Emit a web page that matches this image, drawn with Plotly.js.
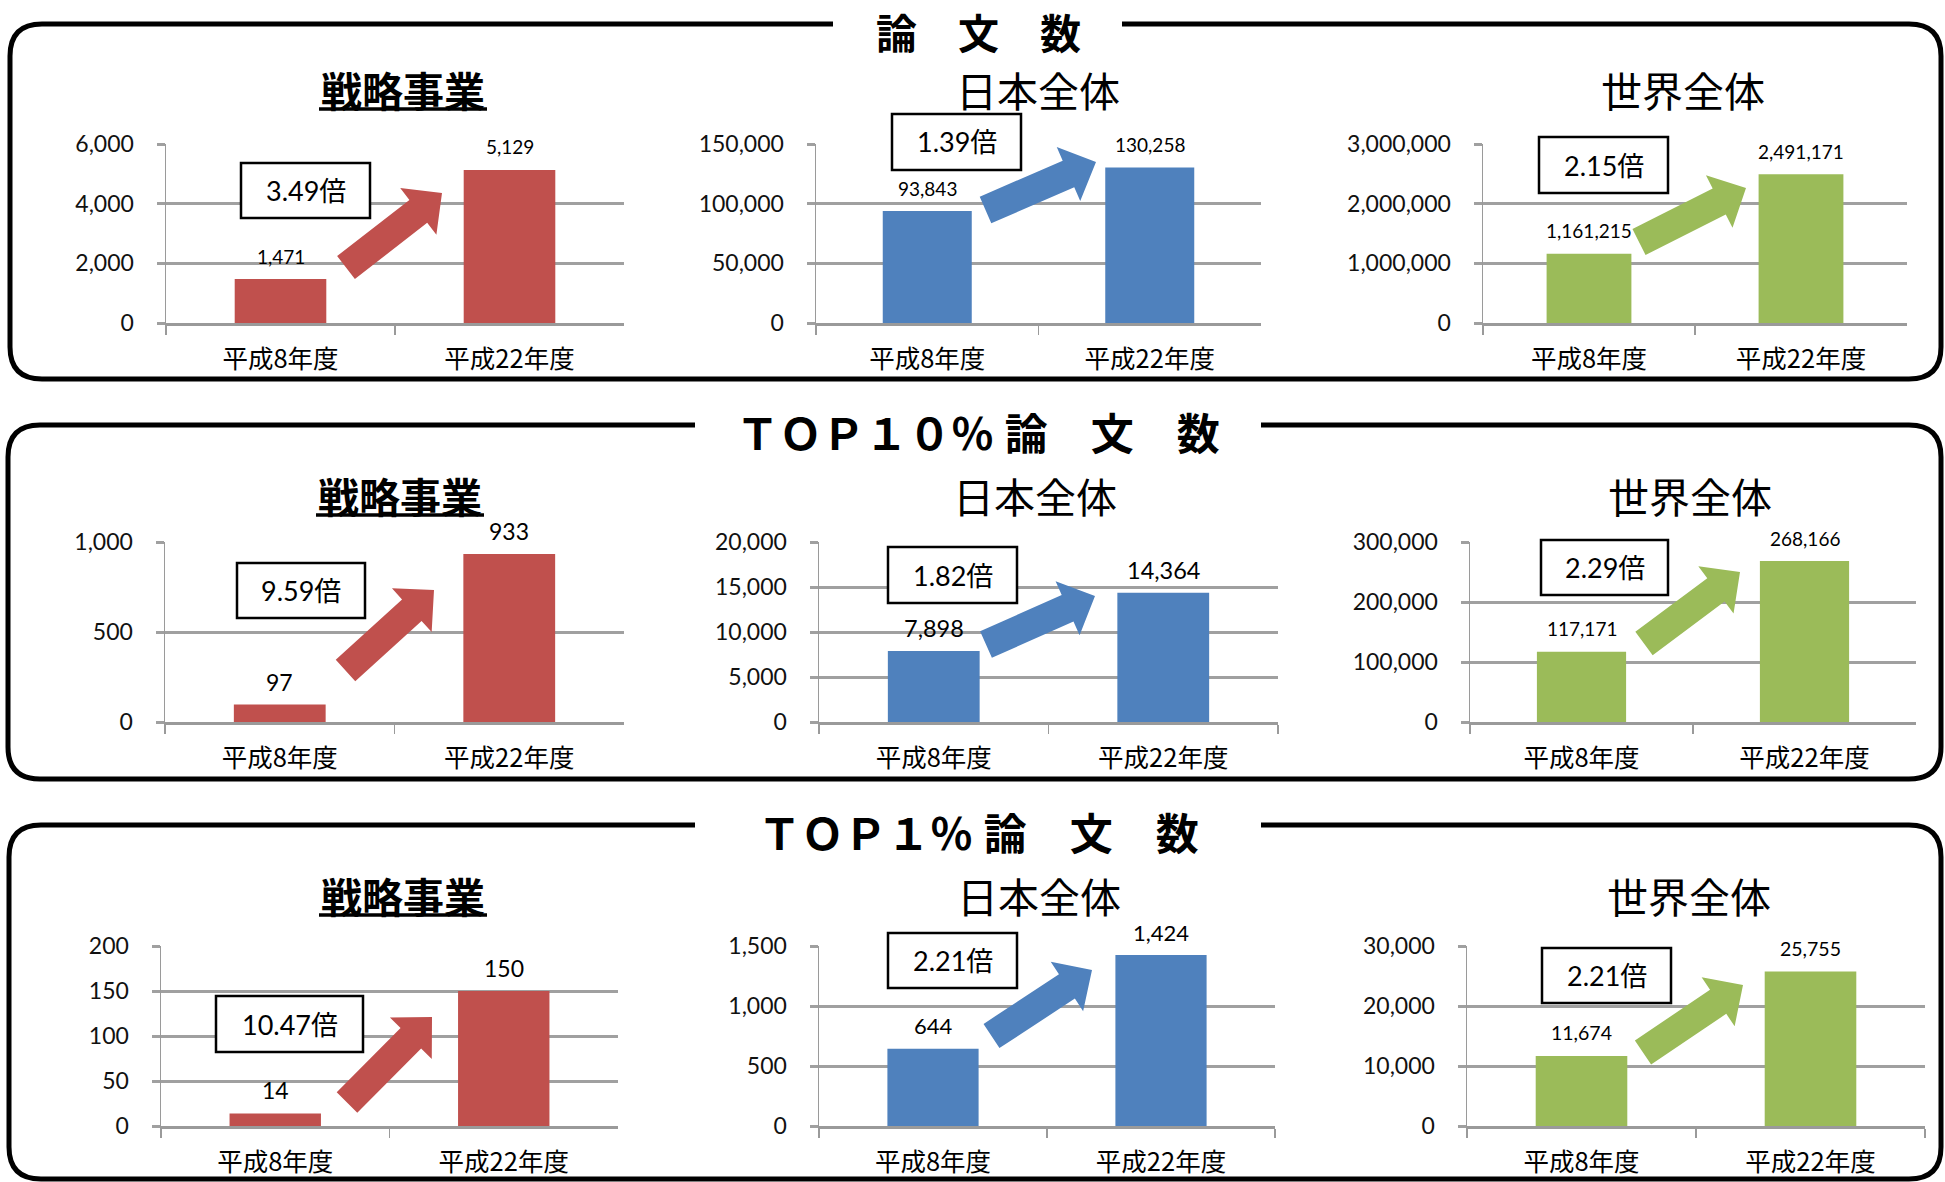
<!DOCTYPE html>
<html><head><meta charset="utf-8">
<script src="https://cdn.plot.ly/plotly-3.0.1.min.js"></script>
<style>html,body{margin:0;padding:0;background:#fff;}#chart{width:1945px;height:1182px;}</style>
</head><body><div id="chart"></div>
<script>
// ---- data ----
const categories = ['平成8年度', '平成22年度'];
const groupTitles = ['戦略事業', '日本全体', '世界全体'];
const sectionTitles = ['論　文　数', 'ＴＯＰ１０％\u2005論　文　数', 'ＴＯＰ１％\u2005論　文　数'];

const papers_strategic = [1471, 5129];
const papers_japan = [93843, 130258];
const papers_world = [1161215, 2491171];
const top10_strategic = [97, 933];
const top10_japan = [7898, 14364];
const top10_world = [117171, 268166];
const top1_strategic = [14, 150];
const top1_japan = [644, 1424];
const top1_world = [11674, 25755];

const ratios_papers = ['3.49倍', '1.39倍', '2.15倍'];
const ratios_top10 = ['9.59倍', '1.82倍', '2.29倍'];
const ratios_top1 = ['10.47倍', '2.21倍', '2.21倍'];

const yMax_papers = [6000, 150000, 3000000];
const yMax_top10 = [1000, 20000, 300000];
const yMax_top1 = [200, 1500, 30000];
const yStep_papers = [2000, 50000, 1000000];
const yStep_top10 = [500, 5000, 100000];
const yStep_top1 = [50, 500, 10000];

const seriesRows = [
  [papers_strategic, papers_japan, papers_world],
  [top10_strategic, top10_japan, top10_world],
  [top1_strategic, top1_japan, top1_world]
];
const ratioRows = [ratios_papers, ratios_top10, ratios_top1];
const yMaxRows = [yMax_papers, yMax_top10, yMax_top1];
const yStepRows = [yStep_papers, yStep_top10, yStep_top1];

// ---- styling / geometry (pixels) ----
const W = 1945, H = 1182;
const PX = x => x / W, PY = y => 1 - y / H;
const colors = ['#C0504D', '#4F81BD', '#9BBB59'];
const rowY = [[144, 323], [542, 722], [946, 1126]];
const colX = [
  [[166, 624], [816, 1261], [1483, 1907]],
  [[165, 624], [819, 1278], [1470, 1916]],
  [[161, 618], [819, 1275], [1467, 1925]]
];
const labelSizes = [[19, 19, 19], [23, 23.5, 19], [23, 22, 19.5]];
const subtitlePos = [
  [[403, 89], [1038, 89], [1683, 89]],
  [[400, 495], [1035, 495], [1690, 495]],
  [[403, 895], [1039, 895], [1689, 895]]
];
const boxes = [
  [[241, 163, 370, 218], [892, 114, 1021, 170], [1539, 137, 1668, 193]],
  [[237, 563, 365, 618], [888, 547, 1017, 603], [1541, 540, 1668, 595]],
  [[216, 996, 363, 1052], [888, 933, 1017, 988], [1542, 948, 1671, 1003]]
];
// arrows: tail center x,y ; tip x,y
const arrows = [
  [[346, 267.5, 442, 193], [985.5, 210, 1096, 162], [1639, 242, 1746, 188]],
  [[345.5, 670.5, 434, 590], [986, 644.5, 1095, 596], [1644, 643.5, 1740, 572]],
  [[347, 1102.5, 432, 1017], [991.5, 1036, 1092, 970], [1643, 1052.5, 1743, 985]]
];
const panels = [
  {top: 24, bottom: 379, gap: [833, 1122], titleY: 30.5, left: 10},
  {top: 425, bottom: 779, gap: [695, 1261], titleY: 431, left: 8},
  {top: 825, bottom: 1179, gap: [695, 1261], titleY: 831, left: 9}
];
const panelRight = 1941, radius = 32;

function P(x, y) { return PX(x) + ',' + PY(y); }

function arrowPath(tx, ty, hx, hy, sw, hw, hl) {
  const dx = hx - tx, dy = hy - ty, L = Math.hypot(dx, dy);
  const ux = dx / L, uy = dy / L, nx = -uy, ny = ux;
  const bx = hx - ux * hl, by = hy - uy * hl;
  const pts = [
    [tx + nx * sw / 2, ty + ny * sw / 2],
    [bx + nx * sw / 2, by + ny * sw / 2],
    [bx + nx * hw / 2, by + ny * hw / 2],
    [hx, hy],
    [bx - nx * hw / 2, by - ny * hw / 2],
    [bx - nx * sw / 2, by - ny * sw / 2],
    [tx - nx * sw / 2, ty - ny * sw / 2]
  ];
  return 'M ' + pts.map(p => P(p[0], p[1])).join(' L ') + ' Z';
}

const traces = [];
const layout = {
  width: W, height: H,
  margin: {l: 0, r: 0, t: 0, b: 0},
  paper_bgcolor: '#ffffff', plot_bgcolor: 'rgba(0,0,0,0)',
  showlegend: false, bargap: 0.6,
  annotations: [], shapes: [],
  font: {family: 'Lato, "Noto Sans CJK JP", sans-serif', color: '#000'}
};

for (let i = 0; i < 3; i++) {
  const pnl = panels[i];
  const t = pnl.top, b = pnl.bottom, l = pnl.left, r = panelRight, rd = radius;
  const path = 'M ' + P(pnl.gap[0], t) + ' L ' + P(l + rd, t) + ' Q ' + P(l, t) + ' ' + P(l, t + rd) +
    ' L ' + P(l, b - rd) + ' Q ' + P(l, b) + ' ' + P(l + rd, b) +
    ' L ' + P(r - rd, b) + ' Q ' + P(r, b) + ' ' + P(r, b - rd) +
    ' L ' + P(r, t + rd) + ' Q ' + P(r, t) + ' ' + P(r - rd, t) +
    ' L ' + P(pnl.gap[1], t);
  layout.shapes.push({type: 'path', xref: 'paper', yref: 'paper', path: path,
    line: {color: '#000', width: 5}, layer: 'above'});
  layout.annotations.push({xref: 'paper', yref: 'paper', x: PX(978), y: PY(pnl.titleY),
    xanchor: 'center', yanchor: 'middle', showarrow: false, text: sectionTitles[i],
    font: {family: '"Noto Sans CJK JP", sans-serif', size: i === 0 ? 41 : 43, weight: 'bold', color: '#000'}});

  for (let j = 0; j < 3; j++) {
    const idx = i * 3 + j + 1;
    const sfx = idx === 1 ? '' : String(idx);
    const xa = 'xaxis' + sfx, ya = 'yaxis' + sfx;
    const xr = 'x' + sfx, yr = 'y' + sfx;
    const vals = seriesRows[i][j];
    traces.push({type: 'bar', x: categories, y: vals, xaxis: xr, yaxis: yr,
      marker: {color: colors[j], line: {width: 0}}, hoverinfo: 'skip'});

    layout[xa] = {
      domain: [PX(colX[i][j][0]), PX(colX[i][j][1])], anchor: yr,
      type: 'category', range: [-0.5, 1.5], fixedrange: true,
      showgrid: false, zeroline: false,
      showline: true, linecolor: '#9a9a9a', linewidth: 3,
      ticks: 'outside', tickson: 'boundaries', ticklen: 9, tickwidth: 1.5, tickcolor: '#9a9a9a',
      ticklabelstandoff: 11,
      tickfont: {family: '"Noto Sans CJK JP", sans-serif', size: 25.5, color: '#000'}
    };
    layout[ya] = {
      domain: [PY(rowY[i][1]), PY(rowY[i][0])], anchor: xr,
      range: [0, yMaxRows[i][j]], dtick: yStepRows[i][j], tick0: 0, fixedrange: true,
      tickformat: ',d', showgrid: true, gridcolor: '#a0a0a0', gridwidth: 3,
      zeroline: false, showline: true, linecolor: '#9a9a9a', linewidth: 1.5,
      ticks: 'outside', ticklen: 8, tickwidth: 3, tickcolor: '#a0a0a0',
      ticklabelstandoff: 18,
      tickfont: {family: 'Lato, sans-serif', size: 23, color: '#111'}
    };

    vals.forEach((v, k) => {
      layout.annotations.push({xref: xr, yref: yr, x: categories[k], y: v,
        text: v.toLocaleString('en-US'), showarrow: false, xanchor: 'center', yanchor: 'middle',
        yshift: 23, font: {family: 'Lato, sans-serif', size: labelSizes[i][j], color: '#000'}});
    });

    const sp = subtitlePos[i][j];
    layout.annotations.push({xref: 'paper', yref: 'paper', x: PX(sp[0]), y: PY(sp[1]),
      xanchor: 'center', yanchor: 'middle', showarrow: false, text: groupTitles[j],
      font: {family: '"Noto Sans CJK JP", sans-serif', size: 41, color: '#000',
        weight: j === 0 ? 'bold' : 'normal'}});
    if (j === 0) {
      layout.shapes.push({type: 'line', xref: 'paper', yref: 'paper',
        x0: PX(sp[0] - 84), x1: PX(sp[0] + 84), y0: PY(sp[1] + 20), y1: PY(sp[1] + 20),
        line: {color: '#000', width: 3.5}});
    }

    const a = arrows[i][j];
    layout.shapes.push({type: 'path', xref: 'paper', yref: 'paper',
      path: arrowPath(a[0], a[1], a[2], a[3], 29, 59, 30),
      fillcolor: colors[j], line: {width: 0}, layer: 'above'});

    const bx = boxes[i][j];
    layout.shapes.push({type: 'rect', xref: 'paper', yref: 'paper',
      x0: PX(bx[0]), x1: PX(bx[2]), y0: PY(bx[3]), y1: PY(bx[1]),
      fillcolor: '#fff', line: {color: '#000', width: 2.5}, layer: 'above'});
    layout.annotations.push({xref: 'paper', yref: 'paper',
      x: PX((bx[0] + bx[2]) / 2), y: PY((bx[1] + bx[3]) / 2),
      xanchor: 'center', yanchor: 'middle', showarrow: false, text: ratioRows[i][j],
      font: {family: 'Lato, "Noto Sans CJK JP", sans-serif', size: 27, color: '#000'}});
  }
}

Plotly.newPlot('chart', traces, layout, {staticPlot: true, displayModeBar: false});
</script>
</body></html>
